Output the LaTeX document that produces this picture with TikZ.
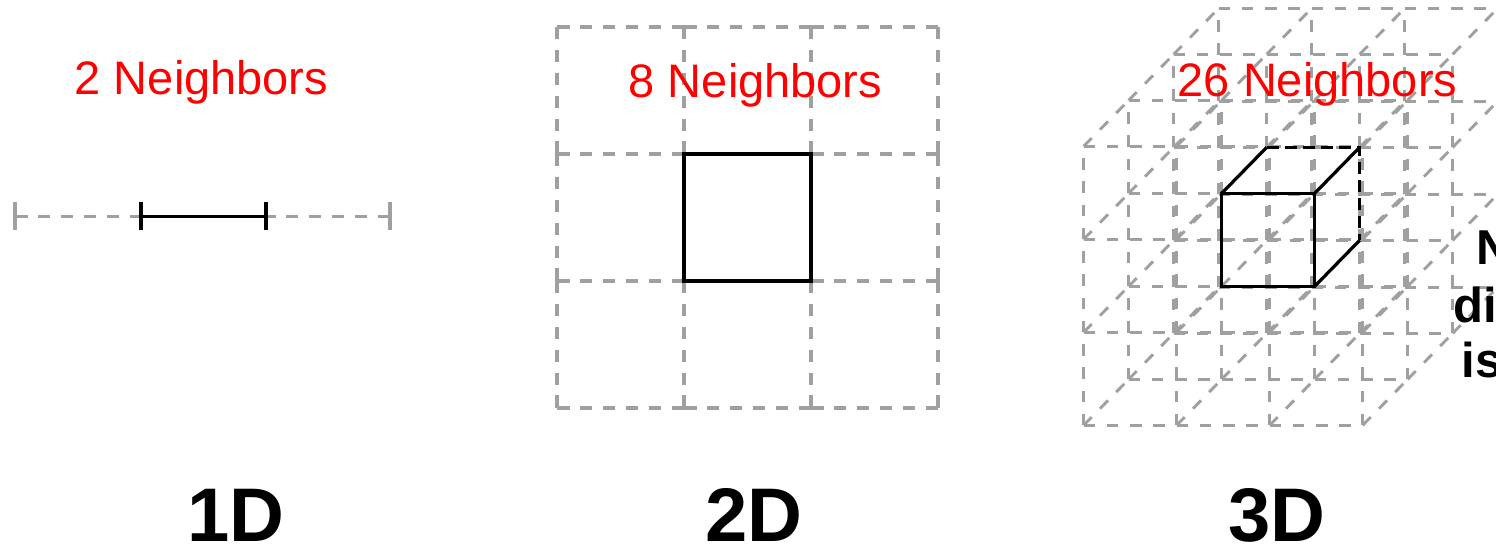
\documentclass[tikz,border=0pt]{standalone}
\usepackage{fontspec}
\setmainfont{Liberation Sans}
\usetikzlibrary{calc}
\definecolor{gridgray}{RGB}{160,160,160}
\definecolor{nbred}{RGB}{255,0,0}
\begin{document}
\begin{tikzpicture}[x=0.5pt,y=-0.5pt,
  grid2/.style={draw=gridgray, line width=1.6pt, dash pattern=on 6.25pt off 5.2pt},
  grid3/.style={draw=gridgray, line width=1.45pt, dash pattern=on 5.75pt off 5.875pt},
  graytick/.style={draw=gridgray, line width=1.6pt},
  solidblack/.style={draw=black, line width=1.6pt},
  cubedash/.style={draw=black, line width=1.45pt, dash pattern=on 6pt off 3pt},
  nblabel/.style={text=nbred, font=\fontsize{23.5pt}{28pt}\selectfont, anchor=base, inner sep=0pt},
  dimlabel/.style={font=\fontsize{38pt}{46pt}\selectfont\bfseries, anchor=base, inner sep=0pt, text depth=0pt},
  sidelabel/.style={font=\fontsize{24.5pt}{29pt}\selectfont\bfseries, anchor=base west, inner sep=0pt}]
\useasboundingbox (0,0) rectangle (1496,549);
\clip (0,0) rectangle (1496,549);
\fill[white] (0,0) rectangle (1496,549);

% ---------- 1D ----------
\coordinate (a0) at (15,216.5);
\coordinate (a1) at (141,216.5);
\coordinate (a2) at (266,216.5);
\coordinate (a3) at (390,216.5);
\draw[grid2] (a0) -- (a1);
\draw[grid2] (a3) -- (a2);
\draw[graytick] ($(a0)+(0,-14)$) -- ($(a0)+(0,14)$);
\draw[graytick] ($(a3)+(0,-14)$) -- ($(a3)+(0,14)$);
\draw[solidblack] (a1) -- (a2);
\draw[solidblack] ($(a1)+(0,-14)$) -- ($(a1)+(0,14)$);
\draw[solidblack] ($(a2)+(0,-14)$) -- ($(a2)+(0,14)$);

% ---------- 2D ----------
\foreach \i in {0,1,2,3} {
  \foreach \j in {0,1,2} {
    \draw[grid2] ({557+127*\i},{27+127*\j}) -- ++(0,127);
    \draw[grid2] ({557+127*\j},{27+127*\i}) -- ++(127,0);
  }
}
\coordinate (sqA) at (684,154);
\coordinate (sqB) at (811,281);
\draw[solidblack] (sqA) rectangle (sqB);

% ---------- 3D ----------
\foreach \a in {0,1,2,3} {
  \foreach \b in {0,1,2,3} {
    \foreach \c in {0,1,2} {
      \draw[grid3] ({1083.7+93*\c+45*\b},{425.3-93*\a-46*\b}) -- ++(93,0);
      \draw[grid3] ({1083.7+93*\a+45*\b},{425.3-93*\c-46*\b}) -- ++(0,-93);
      \draw[grid3] ({1083.7+93*\a+45*\c},{425.3-93*\b-46*\c}) -- ++(45,-46);
    }
  }
}
\coordinate (cFBL) at (1221.7,286.3);
\coordinate (cFBR) at (1314.7,286.3);
\coordinate (cFTR) at (1314.7,193.3);
\coordinate (cFTL) at (1221.7,193.3);
\coordinate (cBTL) at (1266.7,147.3);
\coordinate (cBTR) at (1359.7,147.3);
\coordinate (cBBR) at (1359.7,240.3);
\draw[solidblack] (cFBL) rectangle (cFTR);
\draw[solidblack] (cFTL) -- (cBTL);
\draw[solidblack] (cFTR) -- (cBTR);
\draw[solidblack] (cFBR) -- (cBBR);
\draw[cubedash] (cBTL) -- (cBTR) -- (cBBR);

% ---------- labels ----------
\node[nblabel] (n1) at (201.5,95) {2 Neighbors};
\node[nblabel] (n2) at (755.5,98) {8 Neighbors};
\node[nblabel] (n3) at (1317.5,97) {26 Neighbors};
\node[dimlabel] (d1) at (236,542) {1D};
\node[dimlabel] (d2) at (754,542) {2D};
\node[dimlabel] (d3) at (1277,542) {3D};
\node[sidelabel] (s1) at (1476,265) {N};
\node[sidelabel] (s2) at (1453,323) {di};
\node[sidelabel] (s3) at (1461,378) {is};
\end{tikzpicture}
\end{document}
